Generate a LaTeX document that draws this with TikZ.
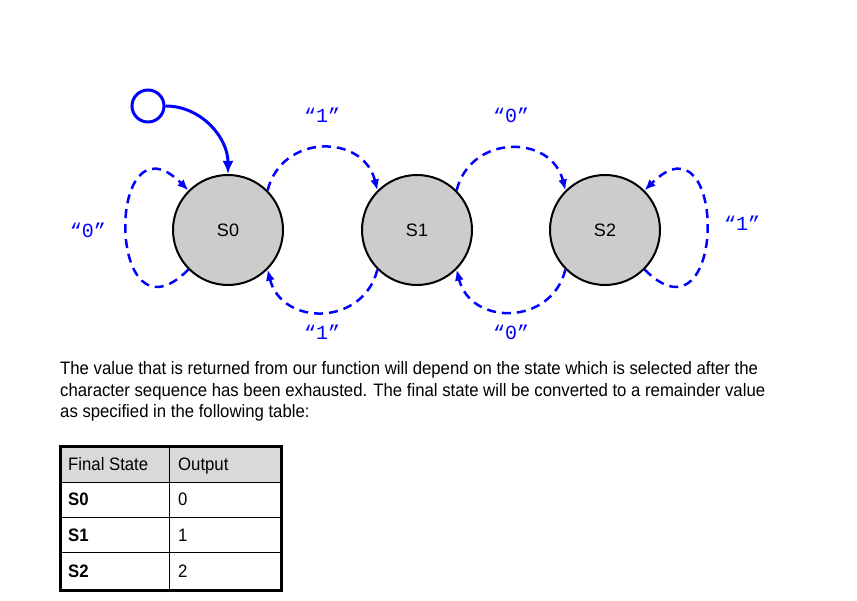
\documentclass[tikz,border=0pt]{standalone}
\usepackage{fontspec}
\setmainfont{Liberation Sans}
\newfontfamily\narrowfont[FakeStretch=0.93]{Liberation Sans}
\newfontfamily\labelfont{Liberation Mono}
\usetikzlibrary{arrows.meta}
\definecolor{fsmblue}{RGB}{0,0,255}
\definecolor{stategray}{RGB}{204,204,204}
\definecolor{headgray}{RGB}{217,217,217}

\begin{document}
\begin{tikzpicture}[x=1pt, y=1pt,
    state/.style={circle, draw=black, line width=2pt, fill=stategray,
        minimum size=110pt, inner sep=0pt, font=\fontsize{18}{18}\selectfont},
    initstate/.style={circle, draw=fsmblue, line width=3pt, fill=white,
        minimum size=32pt, inner sep=0pt},
    trans/.style={draw=fsmblue, line width=2.5pt, dash pattern=on 9pt off 6pt,
        -{Latex[length=11pt,width=9pt]}},
    lbl/.style={text=fsmblue, font=\labelfont\fontsize{20}{20}\selectfont},
    cell/.style={anchor=base west, inner sep=0pt, font=\narrowfont\fontsize{18}{18}\selectfont}]
        \useasboundingbox (0,0) rectangle (857,600);

        % States
        \node[state] (s0) at (228,370) {S0};
        \node[state] (s1) at (417,370) {S1};
        \node[state] (s2) at (605,370) {S2};
        \node[initstate] (init) at (148,494) {};

        % Start arrow
        \draw[fsmblue, line width=3pt, -{Latex[length=13pt,width=11pt]}]
            (init.east) to[out=0,in=90] (s0.north);

        % Transitions
        \draw[trans] (s0.225) to[out=225,in=135,looseness=3.8] (s0.135);
        \draw[trans] (s0.45) to[out=76,in=104,looseness=1.37] (s1.135);
        \draw[trans] (s1.225) to[out=-104,in=-76,looseness=1.37] (s0.315);
        \draw[trans] (s1.45) to[out=76,in=104,looseness=1.37] (s2.135);
        \draw[trans] (s2.225) to[out=-104,in=-76,looseness=1.37] (s1.315);
        \draw[trans] (s2.-45) to[out=-45,in=45,looseness=3.8] (s2.45);

        % Input labels
        \node[lbl] (l00) at (88,370) {“0”};
        \node[lbl] (l01) at (322,485) {“1”};
        \node[lbl] (l10) at (322,268) {“1”};
        \node[lbl] (l12) at (511,485) {“0”};
        \node[lbl] (l21) at (511,268) {“0”};
        \node[lbl] (l22) at (742,377) {“1”};

        % Text
        \node[anchor=base west, inner sep=0pt, align=left,
            font=\narrowfont\fontsize{18}{21.5}\selectfont] (para) at (60,182)
            {The value that is returned from our function will depend on the state which is selected after the\\
             character sequence has been exhausted. The final state will be converted to a remainder value\\
             as specified in the following table:};

        % Table
        \fill[headgray] (60,153) rectangle (281,117);
        \draw[line width=1pt] (60,117) -- (281,117);
        \draw[line width=1pt] (60,82) -- (281,82);
        \draw[line width=1pt] (60,47) -- (281,47);
        \draw[line width=1pt] (169,153) -- (169,10);
        \draw[line width=3pt] (60,153) rectangle (281,10);
        \node[cell] (hstate) at (68,129) {Final State};
        \node[cell] (hout) at (178,129) {Output};
        \node[cell, font=\narrowfont\bfseries\fontsize{18}{18}\selectfont] (r0s) at (68,94) {S0};
        \node[cell] (r0o) at (178,94) {0};
        \node[cell, font=\narrowfont\bfseries\fontsize{18}{18}\selectfont] (r1s) at (68,59) {S1};
        \node[cell] (r1o) at (178,59) {1};
        \node[cell, font=\narrowfont\bfseries\fontsize{18}{18}\selectfont] (r2s) at (68,23) {S2};
        \node[cell] (r2o) at (178,23) {2};
    \end{tikzpicture}
\end{document}
